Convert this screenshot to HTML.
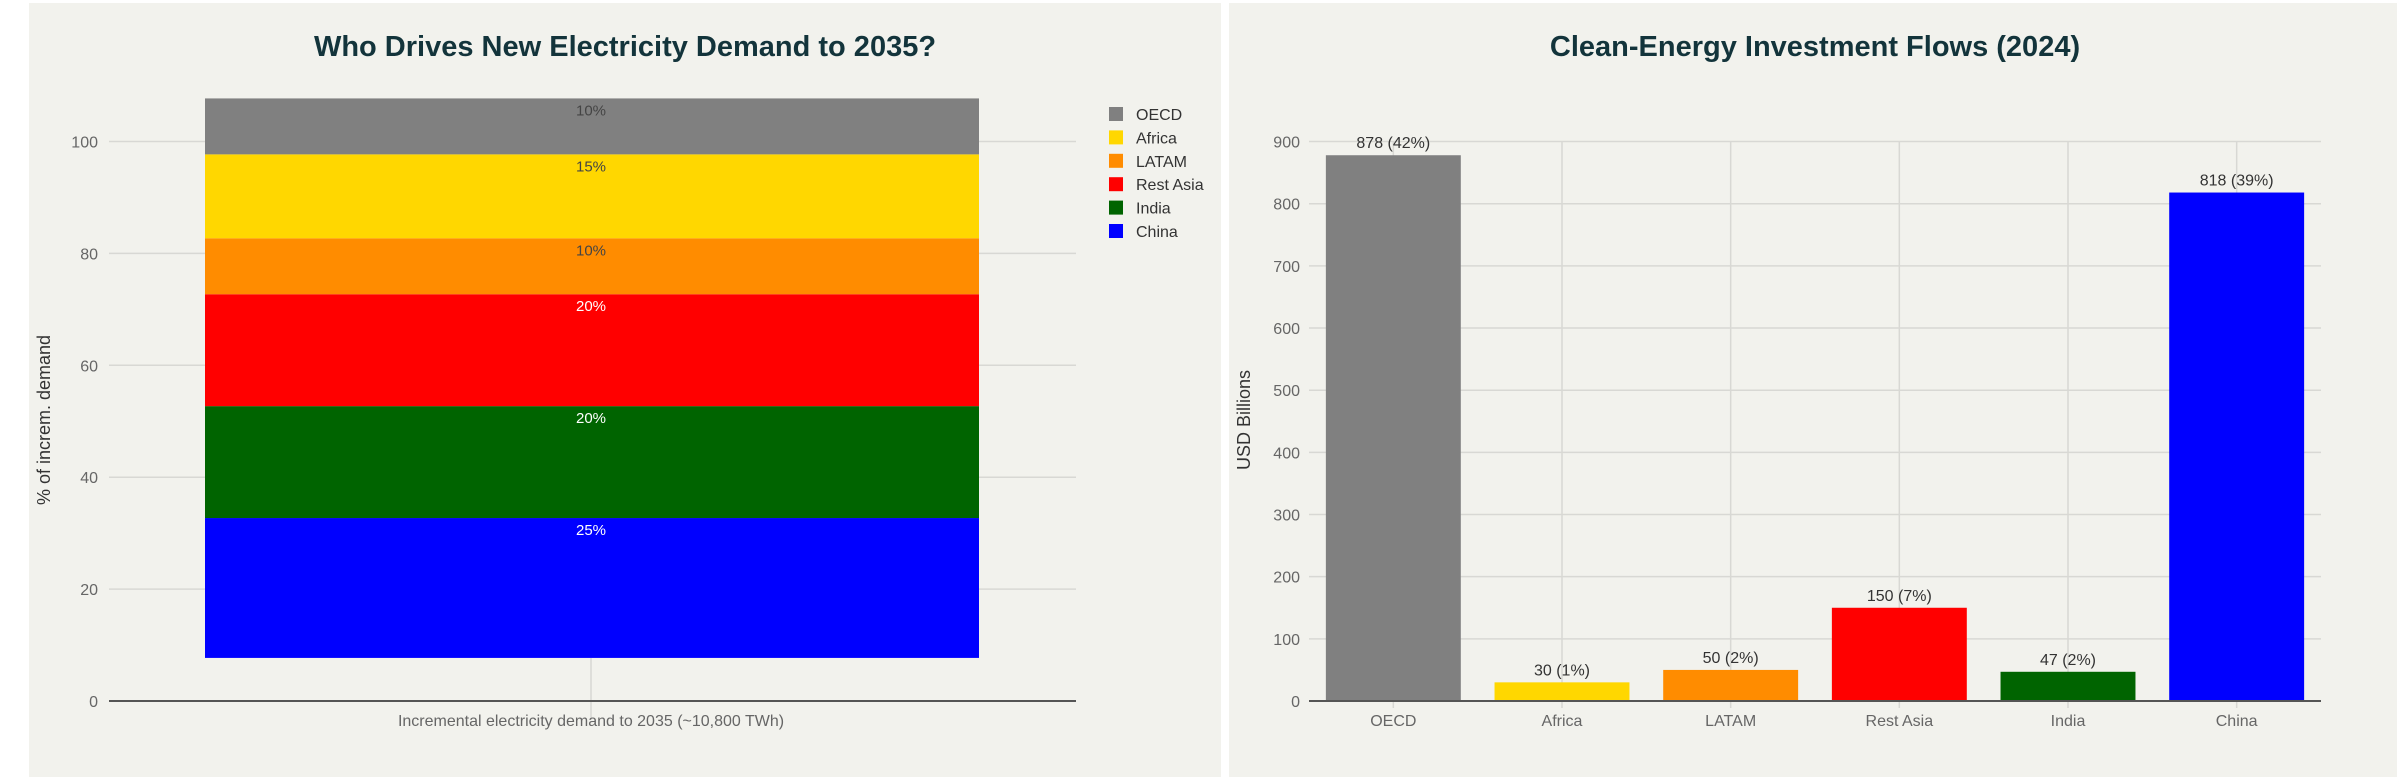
<!DOCTYPE html>
<html><head><meta charset="utf-8"><style>
html,body{margin:0;padding:0;background:#fff;width:2400px;height:780px;overflow:hidden}
svg{display:block;font-family:"Liberation Sans",sans-serif}
</style></head><body>
<svg id="s" width="2400" height="780">
<rect x="29" y="3" width="1192" height="774" fill="#f2f2ed"/>
<rect x="1229" y="3" width="1168" height="774" fill="#f2f2ed"/>
<g id="L"></g>
<g id="R"></g>
</svg>
<script>
// Left chart data
const segNames=["China","India","Rest Asia","LATAM","Africa","OECD"];
const segValues=[25,20,20,10,15,10];
const segLabels=["25%","20%","20%","10%","15%","10%"];
const segColors=["#0000ff","#006400","#ff0000","#ff8c00","#ffd700","#808080"];
const stackBase=7.7;
const leftTicks=[0,20,40,60,80,100];
// Right chart data
const cats=["OECD","Africa","LATAM","Rest Asia","India","China"];
const invValues=[878,30,50,150,47,818];
const invLabels=["878 (42%)","30 (1%)","50 (2%)","150 (7%)","47 (2%)","818 (39%)"];
const invColors=["#808080","#ffd700","#ff8c00","#ff0000","#006400","#0000ff"];
const rightTicks=[0,100,200,300,400,500,600,700,800,900];

const NS="http://www.w3.org/2000/svg";
function mk(p,t,a,txt){const e=document.createElementNS(NS,t);for(const k in a)e.setAttribute(k,a[k]);if(txt!==undefined)e.textContent=txt;p.appendChild(e);return e;}

// LEFT
const L=document.getElementById('L');
const ly=v=>701-(v/100)*559.5;
let t=mk(L,'text',{x:625,y:56,'text-anchor':'middle','font-size':29,'font-weight':'bold',fill:'#13343b'},'Who Drives New Electricity Demand to 2035?');


leftTicks.forEach(v=>{
  if(v>0){const g=mk(L,'line',{x1:109,x2:1076,y1:ly(v),y2:ly(v),stroke:'#d8d8d4','stroke-width':1.5});
  
  }
  const tl=mk(L,'text',{x:98,y:ly(v)+6,'text-anchor':'end','font-size':16,fill:'#666'},String(v));
  
  
});
mk(L,'line',{x1:591,x2:591,y1:ly(stackBase),y2:720,stroke:'#d8d8d4','stroke-width':1.5});
let cum=stackBase;
segValues.forEach((v,i)=>{
  const y0=ly(cum),y1=ly(cum+v);
  const r=mk(L,'rect',{x:205,y:y1,width:774,height:y0-y1,fill:segColors[i]});
  
  
  const light=i>=3;
  const lb=mk(L,'text',{x:591,y:y1+17,'text-anchor':'middle','font-size':15,fill:light?'#444':'#fff'},segLabels[i]);
  
  
  cum+=v;
});
mk(L,'line',{x1:109,x2:1076,y1:701,y2:701,stroke:'#555','stroke-width':2});
t=mk(L,'text',{x:591,y:726,'text-anchor':'middle','font-size':16,fill:'#666'},'Incremental electricity demand to 2035 (~10,800 TWh)');


t=mk(L,'text',{x:0,y:0,'text-anchor':'middle','font-size':18,fill:'#333',transform:'translate(50,420) rotate(-90)'},'% of increm. demand');


for(let k=0;k<6;k++){
  const i=5-k, y=114+k*23.4;
  const g=mk(L,'g',{});
  
  
  mk(g,'rect',{x:1109,y:y-7,width:14,height:14,fill:segColors[i]});
  mk(g,'text',{x:1136,y:y+6,'font-size':16,fill:'#333'},segNames[i]);
}

// RIGHT
const R=document.getElementById('R');
const x0=1309,x1=2321,band=(x1-x0)/cats.length;
const ry=v=>701-v*0.6216;
t=mk(R,'text',{x:1815,y:56,'text-anchor':'middle','font-size':29,'font-weight':'bold',fill:'#13343b'},'Clean-Energy Investment Flows (2024)');


rightTicks.forEach(v=>{
  if(v>0){const g=mk(R,'line',{x1:x0,x2:x1,y1:ry(v),y2:ry(v),stroke:'#d8d8d4','stroke-width':1.5});
  
  }
  const tl=mk(R,'text',{x:1300,y:ry(v)+6,'text-anchor':'end','font-size':16,fill:'#666'},String(v));
  
  
});
cats.forEach((c,i)=>{
  const cx=x0+band*(i+0.5);
  mk(R,'line',{x1:cx,x2:cx,y1:ry(900),y2:708,stroke:'#d8d8d4','stroke-width':1.5});
});
cats.forEach((c,i)=>{
  const cx=x0+band*(i+0.5),w=band*0.8;
  const b=mk(R,'rect',{x:cx-w/2,y:ry(invValues[i]),width:w,height:701-ry(invValues[i]),fill:invColors[i]});
  
  
  const lb=mk(R,'text',{x:cx,y:ry(invValues[i])-7,'text-anchor':'middle','font-size':16,fill:'#333'},invLabels[i]);
  
  
  const xl=mk(R,'text',{x:cx,y:726,'text-anchor':'middle','font-size':16,fill:'#666'},c);
  
  
});
mk(R,'line',{x1:x0,x2:x1,y1:701,y2:701,stroke:'#555','stroke-width':2});
t=mk(R,'text',{x:0,y:0,'text-anchor':'middle','font-size':18,fill:'#333',transform:'translate(1250,420) rotate(-90)'},'USD Billions');


</script>
</body></html>
